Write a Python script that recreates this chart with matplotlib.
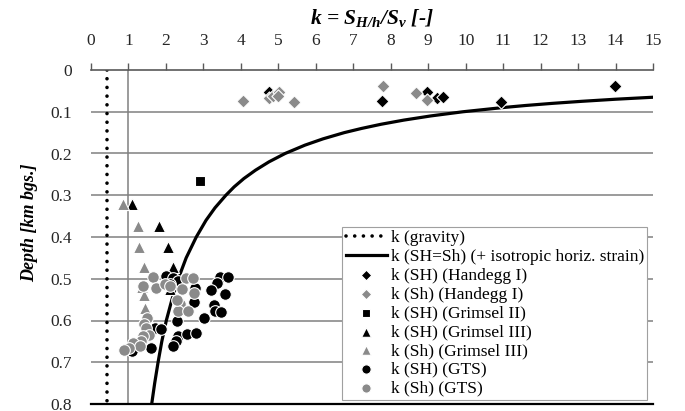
import matplotlib
matplotlib.use("Agg")
import matplotlib.pyplot as plt

plt.rcParams['font.family'] = ['Liberation Serif', 'DejaVu Serif']
plt.rcParams['mathtext.fontset'] = 'custom'
plt.rcParams['mathtext.it'] = 'Liberation Serif:italic:bold'
plt.rcParams['mathtext.rm'] = 'Liberation Serif:italic:bold'
plt.rcParams['mathtext.bf'] = 'Liberation Serif:italic:bold'

# k (gravity)
grav_k = [0.43, 0.43]
grav_depth = [0.0, 0.8]

# k (SH=Sh) (+ isotropic horiz. strain)
curve_depth = [0.063, 0.065, 0.07, 0.075, 0.08, 0.085, 0.09, 0.1, 0.11, 0.12, 0.13, 0.14, 0.15,
               0.165, 0.18, 0.2, 0.22, 0.24, 0.26, 0.28, 0.3, 0.33, 0.36, 0.4, 0.45, 0.5,
               0.55, 0.6, 0.65, 0.7, 0.75, 0.8]
curve_k = [15.51, 15.05, 14.0, 13.1, 12.3, 11.6, 10.99, 9.93, 9.07, 8.35, 7.74, 7.22, 6.76,
           6.19, 5.71, 5.18, 4.75, 4.39, 4.08, 3.82, 3.60, 3.31, 3.07, 2.81, 2.54, 2.33,
           2.16, 2.01, 1.89, 1.79, 1.70, 1.62]

# Handegg I
hand_SH_k = [4.75, 7.77, 8.97, 9.23, 9.39, 10.94, 13.98]
hand_SH_d = [0.053, 0.074, 0.053, 0.067, 0.064, 0.077, 0.039]
hand_Sh_k = [4.06, 4.75, 4.85, 5.02, 4.98, 5.42, 7.8, 8.68, 8.97]
hand_Sh_d = [0.074, 0.068, 0.062, 0.052, 0.063, 0.077, 0.038, 0.055, 0.072]

# Grimsel II
gr2_SH_k = [2.9]
gr2_SH_d = [0.265]

# Grimsel III
gr3_SH_k = [1.09, 1.81, 2.06, 2.2, 2.12]
gr3_SH_d = [0.32, 0.374, 0.423, 0.472, 0.525]
gr3_Sh_k = [0.86, 1.26, 1.28, 1.41, 1.35, 1.41, 1.44]
gr3_Sh_d = [0.32, 0.373, 0.423, 0.472, 0.52, 0.54, 0.571]

# GTS
gts_SH_k = [2.0, 2.18, 2.33, 2.78, 3.44, 3.66, 3.35, 3.2, 3.58, 2.76, 3.29, 3.31, 3.46,
            3.02, 2.3, 1.7, 1.86, 2.33, 2.57, 2.79, 2.27, 2.18, 1.59, 1.09, 2.1]
gts_SH_d = [0.494, 0.499, 0.506, 0.522, 0.495, 0.497, 0.511, 0.526, 0.536, 0.555, 0.562, 0.577, 0.58,
            0.593, 0.602, 0.617, 0.62, 0.636, 0.633, 0.631, 0.649, 0.661, 0.666, 0.673, 0.513]
gts_Sh_k = [1.65, 1.4, 1.73, 1.97, 2.54, 2.73, 2.42, 2.75, 2.37, 2.33, 2.6, 2.11, 2.29,
            1.49, 1.42, 1.46, 1.56, 1.38, 1.33, 1.13, 1.31, 1.02, 0.87]
gts_Sh_d = [0.497, 0.518, 0.522, 0.513, 0.498, 0.498, 0.525, 0.535, 0.561, 0.578, 0.577, 0.518, 0.55,
            0.594, 0.608, 0.617, 0.634, 0.638, 0.648, 0.654, 0.66, 0.667, 0.671]

k_ticks = list(range(0, 16))
depth_ticks = [0, 0.1, 0.2, 0.3, 0.4, 0.5, 0.6, 0.7, 0.8]
depth_labels = ['0', '0.1', '0.2', '0.3', '0.4', '0.5', '0.6', '0.7', '0.8']

GRAY = '#8a8a8a'
TXT = '#262626'

fig = plt.figure(figsize=(6.85, 4.11), dpi=100)
ax = fig.add_axes([91/685, 1 - 404/411, 562/685, 334/411])

ax.set_xlim(0, 15)
ax.set_ylim(0.8, 0)

# grid + reference line at k=1
for d in depth_ticks[1:-1]:
    ax.axhline(d, color='#808080', lw=1.1, zorder=1)
ax.axvline(1, color='#808080', lw=1.1, zorder=1)

ax.plot(grav_k, grav_depth, color='black', lw=2.6, linestyle=(0, (0.01, 2.4)),
        dash_capstyle='round', label='k (gravity)', zorder=2)
ax.plot(curve_k, curve_depth, color='black', lw=2.3, solid_joinstyle='round',
        label='k (SH=Sh) (+ isotropic horiz. strain)', zorder=2)

mk = dict(edgecolors='white', linewidths=0.8, zorder=3)
ax.scatter(hand_SH_k, hand_SH_d, marker='D', s=45, color='black', label='k (SH) (Handegg I)', **mk)
ax.scatter(hand_Sh_k, hand_Sh_d, marker='D', s=45, color=GRAY, label='k (Sh) (Handegg I)', **mk)
ax.scatter(gr2_SH_k, gr2_SH_d, marker='s', s=50, color='black', label='k (SH) (Grimsel II)', **mk)
ax.scatter(gr3_SH_k, gr3_SH_d, marker='^', s=75, color='black', label='k (SH) (Grimsel III)', **mk)
ax.scatter(gr3_Sh_k, gr3_Sh_d, marker='^', s=75, color=GRAY, label='k (Sh) (Grimsel III)', **mk)
ax.scatter(gts_SH_k, gts_SH_d, marker='o', s=70, color='black', label='k (SH) (GTS)', **mk)
ax.scatter(gts_Sh_k, gts_Sh_d, marker='o', s=70, color=GRAY, label='k (Sh) (GTS)', **mk)

# axes styling
for side in ['left', 'right']:
    ax.spines[side].set_visible(False)
ax.spines['top'].set_color('#595959')
ax.spines['top'].set_linewidth(1.2)
ax.spines['bottom'].set_color('black')
ax.spines['bottom'].set_linewidth(1.6)

ax.xaxis.tick_top()
ax.set_xticks(k_ticks)
ax.tick_params(axis='x', direction='out', length=5, width=1, color='#595959',
               labelsize=12.5, pad=10, labelcolor=TXT)
ax.set_yticks(depth_ticks)
ax.set_yticklabels(depth_labels)
ax.tick_params(axis='y', length=0, labelsize=12.5, pad=14, labelcolor=TXT)
ax.tick_params(axis='x', bottom=False)

fig.text(372/685, 1 - 18/411, 'k = $S_{H/h}$/$S_v$ [-]', ha='center', va='center',
         fontsize=15.5, fontweight='bold', fontstyle='italic')
fig.text(30/685, 1 - 223/411, 'Depth [km bgs.]', ha='center', va='center', rotation=90,
         fontsize=13, fontweight='bold', fontstyle='italic')

leg = ax.legend(loc='lower right', bbox_to_anchor=(0.99, 0.012), borderaxespad=0,
                fontsize=12.5, frameon=True, fancybox=False, edgecolor='#a0a0a0',
                framealpha=1, labelspacing=0.15, handlelength=2.4, handletextpad=0.2,
                borderpad=0.2, scatterpoints=1, markerscale=0.8)
leg.get_frame().set_linewidth(0.8)
leg.set_zorder(5)

plt.savefig('out.png', dpi=100)
